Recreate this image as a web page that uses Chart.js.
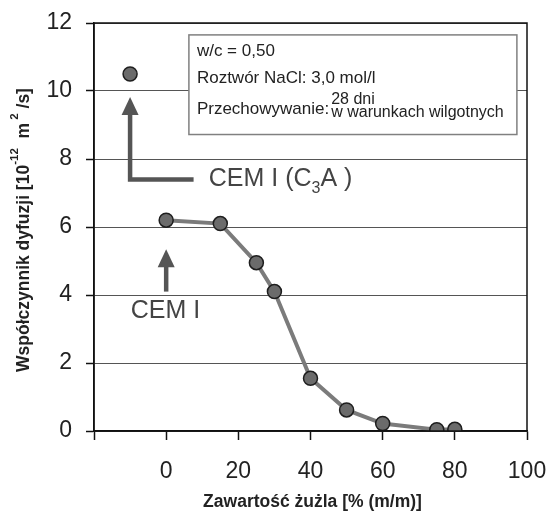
<!DOCTYPE html>
<html>
<head>
<meta charset="utf-8">
<script src="https://cdn.jsdelivr.net/npm/chart.js@4/dist/chart.umd.min.js"></script>
<style>
  html, body { margin: 0; padding: 0; background: #fff; }
  #wrap { width: 550px; height: 512px; position: relative; }
</style>
</head>
<body>
<div id="wrap"><canvas id="chart"></canvas></div>
<script>
// CEM I with high C3A content (single point, plotted left of the slag axis)
const c3aX = [-10];
const c3aY = [10.5];

// slag content [% m/m] and diffusion coefficient [1e-12 m2/s]
const slagContent = [0, 15, 25, 30, 40, 50, 60, 75, 80];
const diffCoef = [6.2, 6.1, 4.95, 4.1, 1.55, 0.62, 0.22, 0.04, 0.05];

const xTicks = [-20, 0, 20, 40, 60, 80, 100];
const yTicks = [0, 2, 4, 6, 8, 10, 12];

const infoLines = ["w/c = 0,50", "Roztwór NaCl: 3,0 mol/l", "Przechowywanie:"];
const storageLines = ["28 dni", "w warunkach wilgotnych"];

const FONT = "'Liberation Sans', Arial, sans-serif";
const DARK = "#555";

function toPoints(xs, ys) {
  return xs.map((x, i) => ({ x: x, y: ys[i] }));
}

function arrowUp(ctx, x, tipY, baseY, endX) {
  ctx.save();
  ctx.strokeStyle = DARK;
  ctx.fillStyle = DARK;
  ctx.lineWidth = 4.5;
  ctx.beginPath();
  ctx.moveTo(x, tipY + 14);
  ctx.lineTo(x, baseY);
  if (endX !== undefined) ctx.lineTo(endX, baseY);
  ctx.stroke();
  ctx.beginPath();
  ctx.moveTo(x, tipY);
  ctx.lineTo(x - 8.5, tipY + 18);
  ctx.lineTo(x + 8.5, tipY + 18);
  ctx.closePath();
  ctx.fill();
  ctx.restore();
}

const extras = {
  id: "extras",
  beforeDatasetsDraw(chart) {
    const ctx = chart.ctx;
    const sx = chart.scales.x, sy = chart.scales.y;
    // info box
    const bx = sx.getPixelForValue(6.3), bx2 = sx.getPixelForValue(97.2);
    const by = sy.getPixelForValue(11.65), by2 = sy.getPixelForValue(8.72);
    ctx.save();
    ctx.fillStyle = "#fff";
    ctx.fillRect(bx, by, bx2 - bx, by2 - by);
    ctx.strokeStyle = "#808080";
    ctx.lineWidth = 1.5;
    ctx.strokeRect(bx, by, bx2 - bx, by2 - by);
    ctx.fillStyle = "#222";
    ctx.font = "17px " + FONT;
    ctx.textBaseline = "alphabetic";
    ctx.textAlign = "left";
    ctx.fillText(infoLines[0], bx + 8, by + 21);
    ctx.fillText(infoLines[1], bx + 8, by + 48);
    ctx.fillText(infoLines[2], bx + 8, by + 79);
    const sw = ctx.measureText(infoLines[2]).width;
    ctx.font = "16px " + FONT;
    ctx.fillText(storageLines[0], bx + 10 + sw, by + 69);
    ctx.fillText(storageLines[1], bx + 10 + sw, by + 82);
    ctx.restore();

    // arrows and labels
    const ax1 = sx.getPixelForValue(c3aX[0]);
    arrowUp(ctx, ax1, sy.getPixelForValue(c3aY[0]) + 23, sy.getPixelForValue(7.4), sx.getPixelForValue(7.6));
    const ax2 = sx.getPixelForValue(slagContent[0]);
    arrowUp(ctx, ax2, sy.getPixelForValue(diffCoef[0]) + 29, sy.getPixelForValue(4.1));

    ctx.save();
    ctx.fillStyle = "#444";
    ctx.font = "25px " + FONT;
    ctx.textBaseline = "middle";
    ctx.textAlign = "left";
    let tx = sx.getPixelForValue(11.8), ty = sy.getPixelForValue(7.4);
    ctx.fillText("CEM I (C", tx, ty);
    tx += ctx.measureText("CEM I (C").width;
    ctx.font = "16px " + FONT;
    ctx.fillText("3", tx, ty + 9);
    tx += ctx.measureText("3").width;
    ctx.font = "25px " + FONT;
    ctx.fillText("A )", tx, ty);
    ctx.fillText("CEM I", sx.getPixelForValue(-9.8), sy.getPixelForValue(3.52));
    ctx.restore();
  },
  afterDraw(chart) {
    const ctx = chart.ctx;
    const a = chart.chartArea;
    ctx.save();
    ctx.strokeStyle = "#111";
    ctx.lineWidth = 1.5;
    ctx.strokeRect(a.left, a.top, a.right - a.left, a.bottom - a.top);

    // y title with superscripts
    ctx.fillStyle = "#222";
    ctx.translate(24, 230);
    ctx.rotate(-Math.PI / 2);
    ctx.textBaseline = "middle";
    ctx.textAlign = "left";
    const parts = [
      ["Współczynnik dyfuzji [10", 0],
      ["-12", 1],
      ["  m", 0],
      [" 2", 1],
      [" /s]", 0]
    ];
    const mainFont = "bold 17.5px " + FONT, supFont = "bold 11.5px " + FONT;
    let w = 0;
    parts.forEach(p => {
      ctx.font = p[1] ? supFont : mainFont;
      w += ctx.measureText(p[0]).width;
    });
    let x = -w / 2;
    parts.forEach(p => {
      ctx.font = p[1] ? supFont : mainFont;
      ctx.fillText(p[0], x, p[1] ? -9 : 0);
      x += ctx.measureText(p[0]).width;
    });
    ctx.restore();

    ctx.save();
    ctx.fillStyle = "#222";
    ctx.font = "bold 17.5px " + FONT;
    ctx.textAlign = "center";
    ctx.textBaseline = "middle";
    ctx.fillText("Zawartość żużla [% (m/m)]", (a.left + a.right) / 2 + 2, 502);
    ctx.restore();
  }
};

new Chart(document.getElementById("chart"), {
  type: "scatter",
  data: {
    datasets: [
      {
        data: toPoints(slagContent, diffCoef),
        showLine: true,
        borderColor: "#7b7b7b",
        borderWidth: 4,
        pointRadius: 7,
        pointBackgroundColor: "#6b6b6b",
        pointBorderColor: "#1e1e1e",
        pointBorderWidth: 1.5
      },
      {
        data: toPoints(c3aX, c3aY),
        pointRadius: 7,
        pointBackgroundColor: "#6b6b6b",
        pointBorderColor: "#1e1e1e",
        pointBorderWidth: 1.5
      }
    ]
  },
  options: {
    responsive: true,
    maintainAspectRatio: false,
    animation: false,
    layout: { padding: { top: 23, right: 23, left: 0, bottom: 0 } },
    plugins: { legend: { display: false }, tooltip: { enabled: false } },
    scales: {
      x: {
        type: "linear",
        min: xTicks[0],
        max: xTicks[xTicks.length - 1],
        afterFit: s => { s.height = 81; s.paddingLeft = 0; s.paddingRight = 0; },
        afterBuildTicks: s => { s.ticks = xTicks.map(v => ({ value: v })); },
        grid: { drawOnChartArea: false, drawTicks: true, tickLength: 9, tickColor: "#111", tickWidth: 1.5 },
        border: { color: "#111", width: 1.5 },
        ticks: {
          padding: 18,
          color: "#222",
          font: { family: FONT, size: 23 },
          maxRotation: 0,
          autoSkip: false,
          callback: v => (v === xTicks[0] ? "" : v)
        }
      },
      y: {
        min: yTicks[0],
        max: yTicks[yTicks.length - 1],
        afterFit: s => { s.width = 94; s.paddingTop = 0; s.paddingBottom = 0; },
        afterBuildTicks: s => { s.ticks = yTicks.map(v => ({ value: v })); },
        grid: { color: "#555", lineWidth: 1, tickLength: 8, tickColor: "#111", tickWidth: 1.5 },
        border: { color: "#111", width: 1.5 },
        ticks: {
          padding: 14,
          color: "#222",
          font: { family: FONT, size: 23 },
          autoSkip: false
        }
      }
    }
  },
  plugins: [extras]
});
</script>
</body>
</html>
